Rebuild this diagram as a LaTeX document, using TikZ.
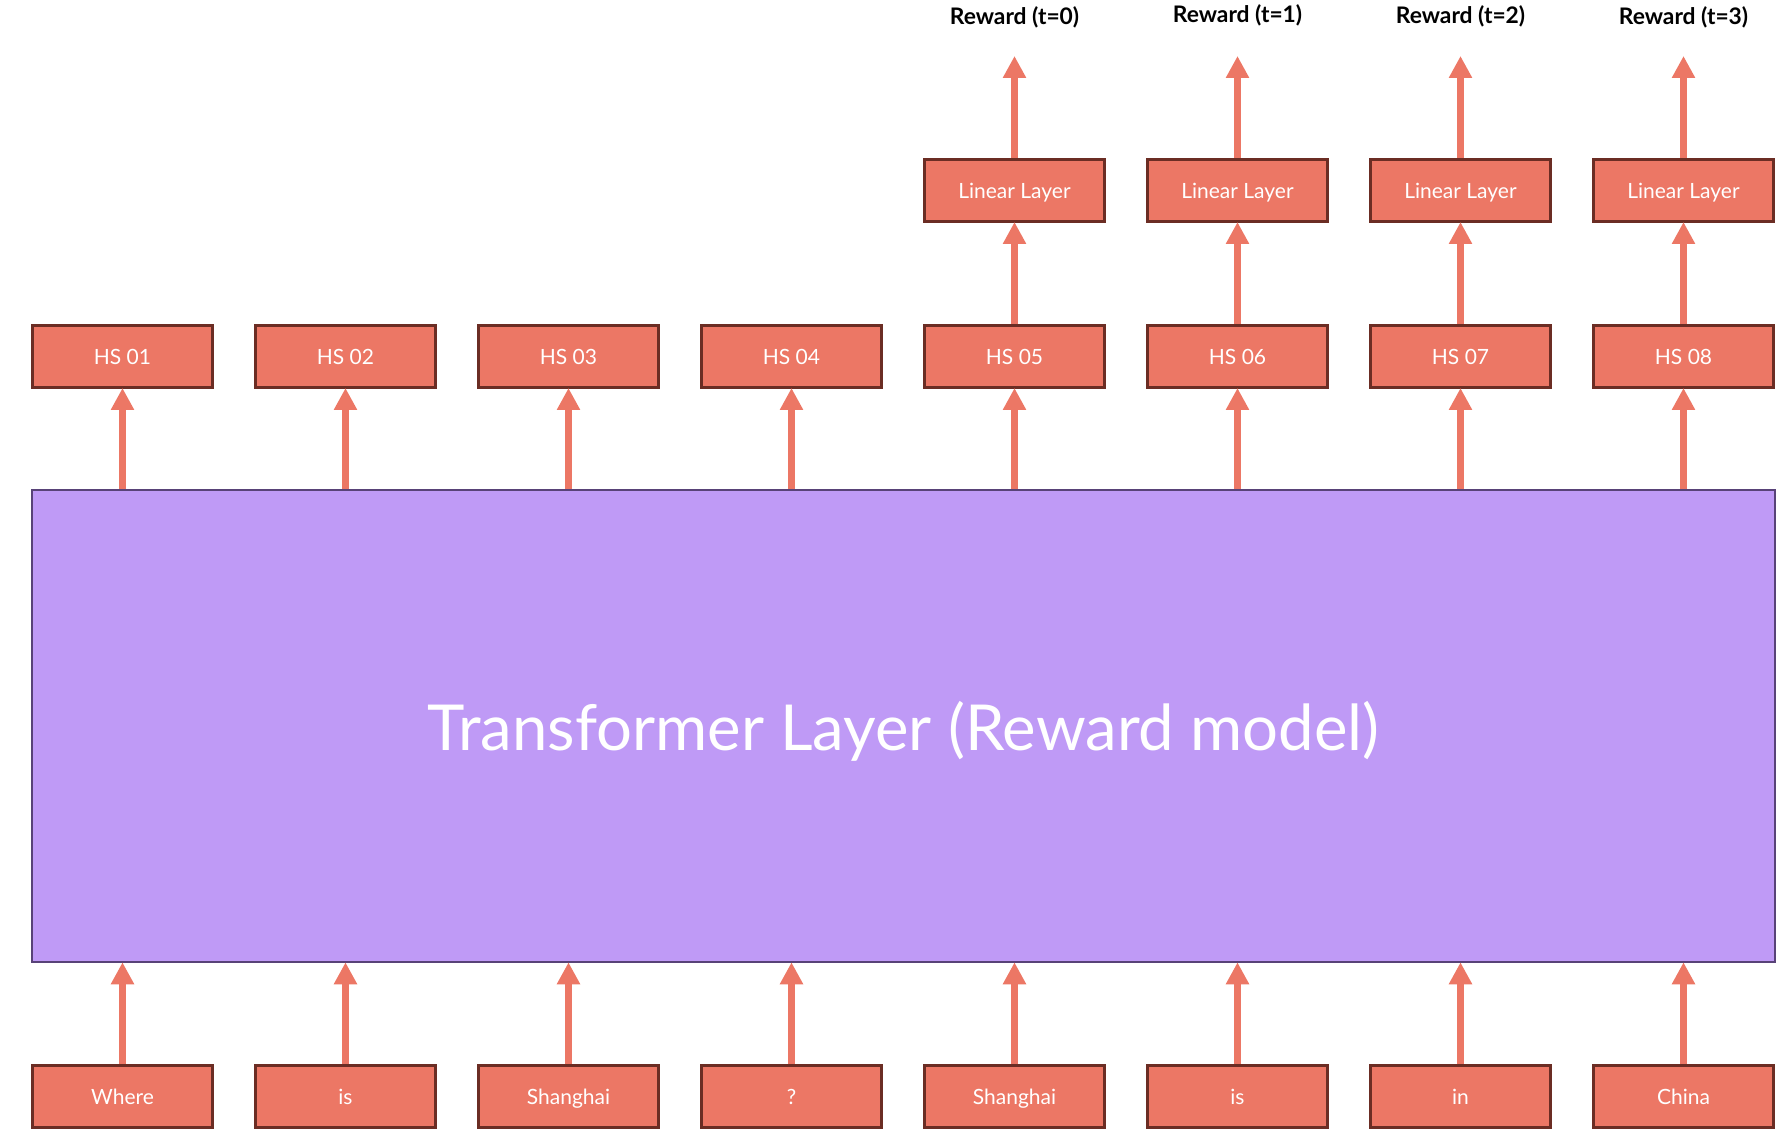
\documentclass[tikz,border=0pt]{standalone}
\usepackage{fontspec}
\setmainfont{Lato}
\usetikzlibrary{arrows.meta}
\definecolor{salmon}{RGB}{236,119,101}
\definecolor{brownb}{RGB}{107,45,36}
\definecolor{violetf}{RGB}{191,154,246}
\definecolor{violetb}{RGB}{88,66,120}
\tikzset{
  tok/.style={draw=brownb, line width=1.5pt, fill=salmon, text=white,
    minimum width=90pt, minimum height=31pt, inner sep=0pt,
    text height=10pt, text depth=2pt, font=\fontsize{10.5}{12}\selectfont},
  tfbox/.style={draw=violetb, line width=1.3pt, fill=violetf,
    minimum width=871.5pt, minimum height=236pt, inner sep=0pt},
  tftext/.style={text=white, inner sep=0pt, font=\fontsize{31.7}{38}\selectfont},
  rew/.style={text=black, inner sep=0pt, font=\bfseries\fontsize{11.4}{13}\selectfont},
  arr/.style={draw=salmon, line width=3.5pt, -{Triangle[width=11pt,length=11pt]}, shorten >=-0.5pt}
}
\begin{document}
\begin{tikzpicture}[x=0.5pt,y=-0.5pt]
\useasboundingbox (0,0) rectangle (1790,1138);
\node[tfbox] (tf) at (903.5,726) {};
\node[tftext] (tft) at (903.5,731) {Transformer Layer (Reward model)};
% inputs
\foreach \i/\w in {0/Where,1/is,2/Shanghai,3/?,4/Shanghai,5/is,6/in,7/China}{
  \node[tok] (in\i) at ({122.5+223*\i},1096.5) {\w};
  \draw[arr] (in\i.north) -- (in\i.north |- tf.south);
}
% hidden states
\foreach \i/\h in {0/01,1/02,2/03,3/04,4/05,5/06,6/07,7/08}{
  \node[tok] (hs\i) at ({122.5+223*\i},356.5) {HS \h};
  \draw[arr] (hs\i.south |- tf.north) -- (hs\i.south);
}
% linear layers and rewards
\foreach \i/\t/\ry in {4/0/17,5/1/15,6/2/16,7/3/17}{
  \node[tok] (ll\i) at ({122.5+223*\i},190.5) {Linear Layer};
  \draw[arr] (hs\i.north) -- (ll\i.south);
  \coordinate (top\i) at ({122.5+223*\i},57);
  \draw[arr] (ll\i.north) -- (top\i);
  \node[rew] (rw\i) at ({122.5+223*\i},\ry) {Reward (t=\t)};
}
\end{tikzpicture}
\end{document}
